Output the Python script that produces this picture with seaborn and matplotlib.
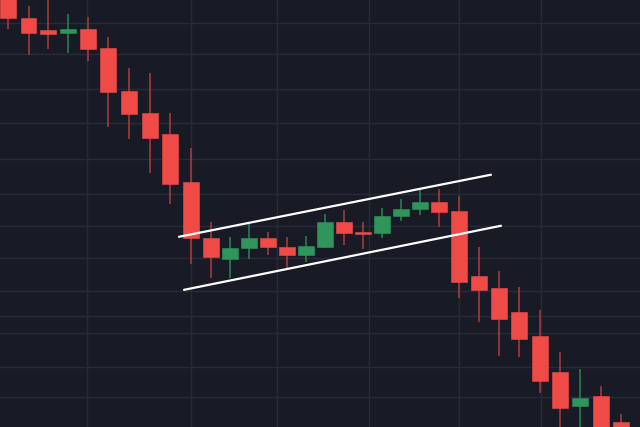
import matplotlib
matplotlib.use("Agg")
import matplotlib.pyplot as plt
import seaborn as sns
import pandas as pd

# Posicion temporal de cada vela (espaciado irregular)
tiempo = [8, 28.5, 48, 68, 88, 108, 129, 150, 170, 191, 211, 230, 249, 268, 287, 306,
          325, 344, 363, 382, 401, 420, 439, 459, 479, 499, 519, 540, 560, 580, 601, 621]

# Datos OHLC (unidades de precio arbitrarias)
open_ = [454, 432, 420, 417, 421, 402, 359, 337, 316, 268, 212, 191, 202, 212, 203, 195,
         203, 228, 218, 217, 234, 241, 248, 239, 174, 162, 138, 114, 78, 44, 54, 28]
high = [462, 444, 454, 436, 433, 413, 382, 377, 337, 302, 228, 213, 226, 218, 213, 214,
        236, 240, 228, 242, 251, 261, 261, 254, 203, 179, 163, 140, 98, 81, 64, 36]
low = [421, 395, 401, 397, 389, 323, 311, 277, 246, 186, 172, 172, 191, 195, 182, 188,
       202, 205, 201, 212, 229, 235, 223, 152, 128, 94, 93, 57, 18, 10, 0, -10]
close = [432, 417, 416, 421, 401, 358, 336, 312, 266, 212, 193, 202, 212, 203, 195, 204,
         228, 217, 216, 234, 241, 248, 238, 168, 160, 131, 111, 69, 42, 52, 10, 0]

# Canal alcista (bandera bajista)
canal_sup_x = [179, 491]
canal_sup_y = [213, 275]
canal_inf_x = [184, 501]
canal_inf_y = [160, 224]

# Lineas de la cuadricula
grid_x = [87, 191, 277, 369, 459, 541]
grid_y = [427, 396, 361, 327, 291, 256, 224, 192, 159, 134, 117, 83, 53]

df = pd.DataFrame({"t": tiempo, "open": open_, "high": high, "low": low, "close": close})
df["sube"] = df["close"] >= df["open"]

fondo = "#181b26"
sns.set_theme(style="darkgrid", rc={
    "axes.facecolor": fondo,
    "figure.facecolor": fondo,
    "grid.color": "#272b39",
    "grid.linewidth": 1.0,
})

fig = plt.figure(figsize=(6.4, 4.275), dpi=100)
ax = fig.add_axes([0, 0, 1, 1])

rojo, rojo_mecha = "#f04a47", "#a33a3c"
verde, verde_mecha = "#2e955b", "#2a7d4e"

for _, c in df.iterrows():
    color = verde if c["sube"] else rojo
    mecha = verde_mecha if c["sube"] else rojo_mecha
    ax.vlines(c["t"], c["low"], c["high"], color=mecha, linewidth=1.2, zorder=2)
    base = min(c["open"], c["close"])
    alto = max(abs(c["close"] - c["open"]), 1.5)
    ax.bar(c["t"], alto, bottom=base, width=15.5, color=color,
           edgecolor=color, linewidth=0.4, zorder=3)

sns.lineplot(x=canal_sup_x, y=canal_sup_y, ax=ax, color="white", linewidth=1.6, zorder=4)
sns.lineplot(x=canal_inf_x, y=canal_inf_y, ax=ax, color="white", linewidth=1.6, zorder=4)

ax.set_xlim(0, 640)
ax.set_ylim(23, 450)
ax.set_xticks(grid_x)
ax.set_yticks(grid_y)
ax.set_xticklabels([])
ax.set_yticklabels([])
ax.tick_params(length=0)
ax.set_xlabel("")
ax.set_ylabel("")
for s in ax.spines.values():
    s.set_visible(False)

fig.savefig("out.png", dpi=100, facecolor=fondo)
